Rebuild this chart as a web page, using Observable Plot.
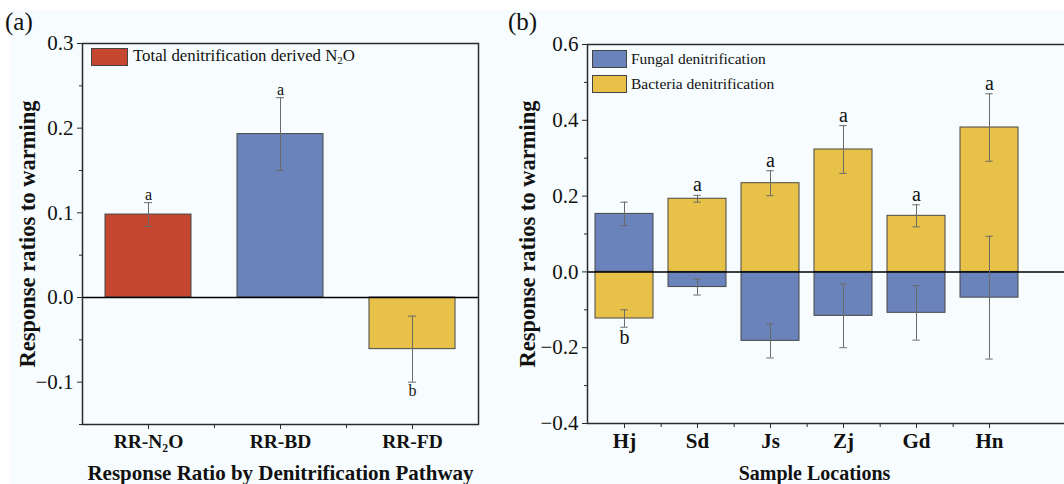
<!DOCTYPE html>
<html><head><meta charset="utf-8">
<script src="https://cdn.jsdelivr.net/npm/d3@7"></script>
<script src="https://cdn.jsdelivr.net/npm/@observablehq/plot@0.6"></script>
<style>
html,body{margin:0;padding:0;background:#fff;overflow:hidden;}
#wrap{position:relative;width:1064px;height:484px;font-family:"Liberation Serif","Times New Roman",serif;color:#111;}
#bg{position:absolute;left:10px;top:10px;right:0;bottom:0;background:#f7fdfe;}
.panel{position:absolute;top:0;}
.plabel{position:absolute;font-size:25px;line-height:28px;}
.leg{position:absolute;font-size:15.5px;line-height:20px;white-space:nowrap;}
.leg sub{font-size:11px;vertical-align:-3px;line-height:0;}
.sw{position:absolute;border:1px solid #444;box-sizing:border-box;}
</style></head><body>
<div id="wrap">
<div id="bg"></div>
<div id="pa" class="panel" style="left:0"></div>
<div id="pb" class="panel" style="left:500px"></div>
<div class="plabel" style="left:5px;top:8px">(a)</div>
<div class="plabel" style="left:508px;top:8px">(b)</div>
<div class="sw" style="left:91px;top:48px;width:37px;height:18px;background:#c5472f"></div>
<div class="leg" style="left:133px;top:46px;font-size:16.8px">Total denitrification derived N<sub>2</sub>O</div>
<div class="sw" style="left:592px;top:50px;width:35px;height:18px;background:#6b83bb"></div>
<div class="leg" style="left:631px;top:49px">Fungal denitrification</div>
<div class="sw" style="left:592px;top:75px;width:35px;height:18px;background:#e8c149"></div>
<div class="leg" style="left:631px;top:74px">Bacteria denitrification</div>
</div>
<script>
// ---- Panel (a) data ----
const pathways = ["RR-N₂O", "RR-BD", "RR-FD"];
const pathwayValues = [0.098, 0.193, -0.061];
const pathwayErrors = [0.014, 0.043, 0.039];
const pathwayLetters = ["a", "a", "b"];
const pathwayColors = ["#c5472f", "#6b83bb", "#e8c149"];
const yTicksA = [-0.1, 0, 0.1, 0.2, 0.3];
const yMinorA = [-0.15, -0.05, 0.05, 0.15, 0.25];

// ---- Panel (b) data ----
const locations = ["Hj", "Sd", "Js", "Zj", "Gd", "Hn"];
const fungal = [0.153, -0.040, -0.182, -0.116, -0.108, -0.068];
const fungalErr = [0.031, 0.021, 0.045, 0.084, 0.072, 0.162];
const bacteria = [-0.123, 0.193, 0.234, 0.323, 0.148, 0.381];
const bacteriaErr = [0.023, 0.009, 0.033, 0.063, 0.029, 0.089];
const bacteriaLetters = ["b", "a", "a", "a", "a", "a"];
const seriesColors = {Fungal: "#6b83bb", Bacteria: "#e8c149"};
const yTicksB = [-0.4, -0.2, 0, 0.2, 0.4, 0.6];
const yMinorB = [-0.3, -0.1, 0.1, 0.3, 0.5];

const serif = '"Liberation Serif","Times New Roman",serif';
const fmt = d3.format(".1f");
const errColor = "#6a6a6a";
const ink = "#2a2a2a";

const dataA = pathways.map((c, i) => ({c, v: pathwayValues[i], e: pathwayErrors[i], l: pathwayLetters[i], col: pathwayColors[i]}));

const plotA = Plot.plot({
  width: 500, height: 484,
  marginLeft: 82, marginRight: 22, marginTop: 43, marginBottom: 60,
  style: {fontFamily: serif, background: "transparent", color: "#111", overflow: "visible"},
  x: {domain: pathways, paddingInner: 0.35, paddingOuter: 0.175, label: null},
  y: {domain: [-0.15, 0.3], label: null},
  color: {type: "identity"},
  marks: [
    Plot.barY(dataA, {x: "c", y: "v", fill: "col", stroke: "#474747", strokeWidth: 1}),
    Plot.ruleY([0], {stroke: "#000", strokeWidth: 1.5}),
    Plot.ruleX(dataA, {x: "c", y1: d => d.v - d.e, y2: d => d.v + d.e, stroke: errColor, strokeWidth: 1}),
    Plot.tickY(dataA, {x: "c", y: d => d.v + d.e, stroke: errColor, insetLeft: 39, insetRight: 39}),
    Plot.tickY(dataA, {x: "c", y: d => d.v - d.e, stroke: errColor, insetLeft: 39, insetRight: 39}),
    Plot.text(dataA.filter(d => d.v >= 0), {x: "c", y: d => d.v + d.e, text: "l", lineAnchor: "bottom", dy: -3, fontSize: 16, fontFamily: serif, fill: "#111"}),
    Plot.text(dataA.filter(d => d.v < 0), {x: "c", y: d => d.v - d.e, text: "l", lineAnchor: "top", dy: 2, fontSize: 16, fontFamily: serif, fill: "#111"}),
    Plot.frame({stroke: ink, strokeWidth: 1.5}),
    Plot.axisY(yTicksA, {tickSize: 5, tickPadding: 4, fontSize: 21, fontFamily: serif, tickFormat: fmt, label: null, stroke: ink}),
    Plot.axisY(yMinorA, {tickSize: 3, tickFormat: () => "", label: null, stroke: ink}),
    Plot.axisX(pathways, {tickSize: 5, tickPadding: 5, fontSize: 19.5, fontFamily: serif, fontWeight: "bold", label: null, stroke: ink}),
    Plot.axisX(pathways.slice(0, 2), {tickSize: 4, dx: 66, tickFormat: () => "", label: null, stroke: ink}),
    Plot.text(["Response ratios to warming"], {text: d => d, frameAnchor: "left", textAnchor: "middle", lineAnchor: "middle", rotate: -90, dx: -55, fontSize: 22.5, fontFamily: serif, fontWeight: "bold", fill: "#111"}),
    Plot.text(["Response Ratio by Denitrification Pathway"], {text: d => d, frameAnchor: "bottom", textAnchor: "middle", lineAnchor: "middle", dy: 49, fontSize: 21, fontFamily: serif, fontWeight: "bold", fill: "#111"})
  ]
});
document.getElementById("pa").append(plotA);

const dataB = [];
locations.forEach((loc, i) => {
  dataB.push({loc, s: "Fungal", v: fungal[i], e: fungalErr[i], l: null});
  dataB.push({loc, s: "Bacteria", v: bacteria[i], e: bacteriaErr[i], l: bacteriaLetters[i]});
});
const lettersB = dataB.filter(d => d.l);

const plotB = Plot.plot({
  width: 564, height: 484,
  marginLeft: 87, marginRight: 0, marginTop: 44, marginBottom: 61,
  style: {fontFamily: serif, background: "transparent", color: "#111", overflow: "visible"},
  x: {domain: locations, range: [87, 527], paddingInner: 0.2, paddingOuter: 0.1, label: null},
  y: {domain: [-0.4, 0.6], label: null},
  marks: [
    Plot.barY(dataB, {x: "loc", y: "v", fill: d => seriesColors[d.s], stroke: "#474747", strokeWidth: 1}),
    Plot.ruleY([0], {stroke: "#000", strokeWidth: 1.5}),
    Plot.ruleX(dataB, {x: "loc", y1: d => d.v - d.e, y2: d => d.v + d.e, stroke: errColor, strokeWidth: 1}),
    Plot.tickY(dataB, {x: "loc", y: d => d.v + d.e, stroke: errColor, insetLeft: 25.3, insetRight: 25.3}),
    Plot.tickY(dataB, {x: "loc", y: d => d.v - d.e, stroke: errColor, insetLeft: 25.3, insetRight: 25.3}),
    Plot.text(lettersB.filter(d => d.v >= 0), {x: "loc", y: d => d.v + d.e, text: "l", lineAnchor: "bottom", dy: -4, fontSize: 20, fontFamily: serif, fill: "#111"}),
    Plot.text(lettersB.filter(d => d.v < 0), {x: "loc", y: d => d.v - d.e, text: "l", lineAnchor: "top", dy: 3, fontSize: 20, fontFamily: serif, fill: "#111"}),
    Plot.frame({stroke: ink, strokeWidth: 1.5, insetRight: -20}),
    Plot.axisY(yTicksB, {tickSize: 5, tickPadding: 4, fontSize: 21, fontFamily: serif, tickFormat: fmt, label: null, stroke: ink}),
    Plot.axisY(yMinorB, {tickSize: 3, tickFormat: () => "", label: null, stroke: ink}),
    Plot.axisX(locations, {tickSize: 5, tickPadding: 5, fontSize: 21, fontFamily: serif, fontWeight: "bold", label: null, stroke: ink}),
    Plot.axisX(locations.slice(0, 5), {tickSize: 4, dx: 36.67, tickFormat: () => "", label: null, stroke: ink}),
    Plot.text(["Response ratios to warming"], {text: d => d, frameAnchor: "left", textAnchor: "middle", lineAnchor: "middle", rotate: -90, dx: -60, fontSize: 22.5, fontFamily: serif, fontWeight: "bold", fill: "#111"}),
    Plot.text(["Sample Locations"], {text: d => d, frameAnchor: "bottom", textAnchor: "middle", lineAnchor: "middle", dy: 50, dx: -11.5, fontSize: 20, fontFamily: serif, fontWeight: "bold", fill: "#111"})
  ]
});
document.getElementById("pb").append(plotB);
</script>
</body></html>
